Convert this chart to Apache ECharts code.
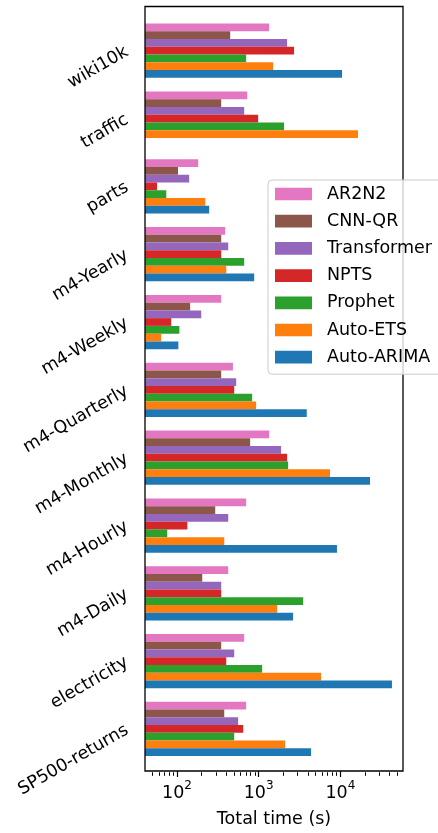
<!DOCTYPE html>
<html>
<head>
<meta charset="utf-8">
<script src="https://cdn.jsdelivr.net/npm/echarts@6/dist/echarts.min.js"></script>
<style>
  html, body { margin: 0; padding: 0; background: #fff; }
  #chart { width: 438px; height: 833px; }
</style>
</head>
<body>
<div id="chart"></div>
<script>
// datasets, top to bottom
const datasets = ['wiki10k', 'traffic', 'parts', 'm4-Yearly', 'm4-Weekly', 'm4-Quarterly',
  'm4-Monthly', 'm4-Hourly', 'm4-Daily', 'electricity', 'SP500-returns'];

// total time in seconds, one value per dataset
const ar2n2 = [1343, 724, 182, 389, 348, 484, 1343, 703, 424, 665, 703];
const cnnQr = [448, 348, 103, 348, 145, 348, 787, 294, 204, 348, 379];
const transformer = [2230, 665, 141, 424, 198, 531, 1884, 424, 348, 502, 561];
const npts = [2716, 986, 57, 348, 85, 502, 2230, 134, 348, 401, 647];
const prophet = [703, 2046, 74, 665, 107, 833, 2296, 76, 3500, 1104, 502];
const autoEts = [1504, 16450, 222, 401, 64, 931, 7480, 379, 1683, 5810, 2108];
const autoArima = [10490, null, 248, 881, 104, 3882, 23070, 9090, 2640, 42850, 4384];

const majorTicks = [100, 1000, 10000];
const minorTicks = [50, 60, 70, 80, 90, 200, 300, 400, 500, 600, 700, 800, 900,
  2000, 3000, 4000, 5000, 6000, 7000, 8000, 9000, 20000, 30000, 40000, 50000];

const xMin = 40.6;
const xMax = 58500;
const font = 'DejaVu Sans';
const fontSize = 17.5;

const seriesList = [
  { name: 'AR2N2', data: ar2n2, color: '#e377c2' },
  { name: 'CNN-QR', data: cnnQr, color: '#8c564b' },
  { name: 'Transformer', data: transformer, color: '#9467bd' },
  { name: 'NPTS', data: npts, color: '#d62728' },
  { name: 'Prophet', data: prophet, color: '#2ca02c' },
  { name: 'Auto-ETS', data: autoEts, color: '#ff7f0e' },
  { name: 'Auto-ARIMA', data: autoArima, color: '#1f77b4' },
];

const chart = echarts.init(document.getElementById('chart'));

const logAxis = (gridIndex) => ({
  gridIndex,
  type: 'log',
  logBase: 10,
  min: xMin,
  max: xMax,
  splitLine: { show: false },
  axisLine: { show: false },
});

chart.setOption({
  animation: false,
  textStyle: { fontFamily: font },
  grid: [
    { left: 145, right: 35, top: 16.8, height: 746.1 },
    { left: 145, right: 35, top: 6.5, height: 765.8, show: true, z: 5,
      borderColor: '#000', borderWidth: 1.3, backgroundColor: 'transparent' },
    { left: 145, right: 35, top: 6.5, height: 765.8 },
  ],
  legend: {
    data: seriesList.map((s) => s.name),
    orient: 'vertical',
    left: 268,
    top: 180,
    z: 10,
    selectedMode: false,
    icon: 'rect',
    itemWidth: 37,
    itemHeight: 12.7,
    itemGap: 9.2,
    padding: [5, 12, 8, 7],
    backgroundColor: 'rgba(255,255,255,0.8)',
    borderColor: '#cccccc',
    borderWidth: 1,
    borderRadius: 4,
    textStyle: { fontSize: fontSize, color: '#000', fontFamily: font, padding: [0, 0, 0, 10] },
  },
  xAxis: [
    Object.assign(logAxis(0), { show: false }),
    Object.assign(logAxis(1), {
      axisTick: { customValues: majorTicks, length: 6, lineStyle: { color: '#000', width: 1.2 } },
      axisLabel: {
        customValues: majorTicks,
        margin: 9,
        formatter: (v) => '{b|10}{s|' + Math.round(Math.log10(v)) + '}',
        rich: {
          b: { fontSize: fontSize, color: '#000', fontFamily: font, lineHeight: 22, verticalAlign: 'bottom' },
          s: { fontSize: 12, color: '#000', fontFamily: font, lineHeight: 12, verticalAlign: 'top' },
        },
      },
      name: 'Total time (s)',
      nameLocation: 'middle',
      nameGap: 39,
      nameTextStyle: { fontSize: fontSize, color: '#000', fontFamily: font },
    }),
    Object.assign(logAxis(2), {
      axisTick: { customValues: minorTicks, length: 3.5, lineStyle: { color: '#000', width: 1 } },
      axisLabel: { show: false },
    }),
  ],
  yAxis: [
    {
      gridIndex: 0,
      type: 'category',
      inverse: true,
      data: datasets,
      axisLine: { show: false },
      axisTick: { alignWithLabel: true, interval: 0, length: 6, lineStyle: { color: '#000', width: 1.2 } },
      axisLabel: {
        interval: 0, rotate: 30, margin: 18, padding: [3, 0, 0, 0],
        fontSize: fontSize, color: '#000', fontFamily: font,
      },
    },
    { gridIndex: 1, type: 'value', show: false },
    { gridIndex: 2, type: 'value', show: false },
  ],
  series: seriesList.map((s) => ({
    type: 'bar',
    name: s.name,
    data: s.data,
    xAxisIndex: 0,
    yAxisIndex: 0,
    barWidth: 7.75,
    barGap: '0%',
    clip: true,
    itemStyle: { color: s.color },
  })),
});
</script>
</body>
</html>
